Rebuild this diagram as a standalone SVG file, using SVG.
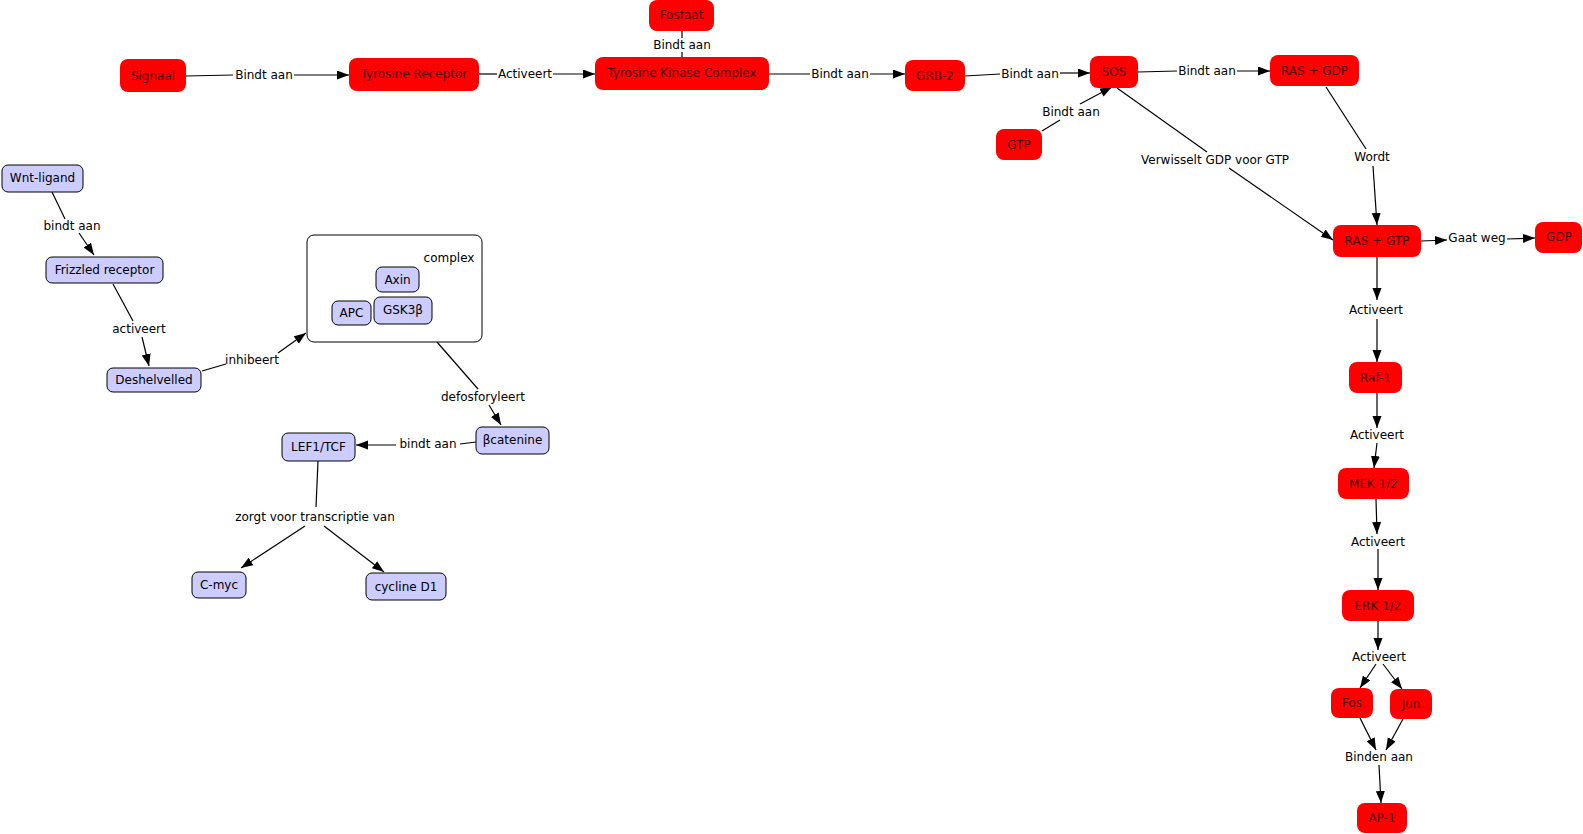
<svg xmlns="http://www.w3.org/2000/svg" width="1583" height="834" viewBox="0 0 1583 834">
<defs>
<marker id="ah" markerUnits="userSpaceOnUse" markerWidth="13" markerHeight="10" refX="12" refY="4.5" orient="auto"><path d="M0,0 L12,4.5 L0,9 z" fill="#000"/></marker>
<style>
text{font-family:"DejaVu Sans","Liberation Sans",sans-serif;font-size:12px;text-anchor:middle;dominant-baseline:central}
.r rect{fill:#ff0000;stroke:none}
.r text{fill:#4a0000}
.b rect{fill:#ccccff;stroke:#000;stroke-width:1}
.b text{fill:#000}
.lbl{fill:#000}
#connectors line{stroke:#000;stroke-width:1.2;fill:none}
#connectors line.a{marker-end:url(#ah)}
</style>
</defs>
<rect width="1583" height="834" fill="#fff"/>
<g id="connectors">
<line x1="186" y1="76" x2="233" y2="75"/><line class="a" x1="294" y1="75" x2="349" y2="75"/>
<line x1="479" y1="74" x2="497" y2="74"/><line class="a" x1="553" y1="74" x2="595" y2="74"/>
<line x1="682" y1="31" x2="682" y2="38"/><line x1="682" y1="52" x2="682" y2="57"/>
<line x1="769" y1="74" x2="810" y2="74"/><line class="a" x1="870" y1="74" x2="905" y2="74"/>
<line x1="965" y1="76" x2="1000" y2="74"/><line class="a" x1="1060" y1="73" x2="1090" y2="73"/>
<line x1="1138" y1="72" x2="1177" y2="71"/><line class="a" x1="1237" y1="71" x2="1270" y2="71"/>
<line x1="1042" y1="131" x2="1060" y2="120"/><line class="a" x1="1080" y1="104" x2="1112" y2="87"/>
<line x1="1117" y1="88" x2="1207" y2="152"/><line class="a" x1="1229" y1="168" x2="1333" y2="240"/>
<line x1="1326" y1="87" x2="1366" y2="149"/><line class="a" x1="1373" y1="166" x2="1377" y2="225"/>
<line class="a" x1="1421" y1="241" x2="1447" y2="240"/><line class="a" x1="1507" y1="239" x2="1535" y2="238"/>
<line class="a" x1="1377" y1="257" x2="1377" y2="300"/><line class="a" x1="1377" y1="319" x2="1377" y2="362"/>
<line class="a" x1="1377" y1="393" x2="1377" y2="428"/><line class="a" x1="1377" y1="443" x2="1374" y2="468"/>
<line class="a" x1="1376" y1="499" x2="1377" y2="534"/><line class="a" x1="1378" y1="549" x2="1378" y2="590"/>
<line class="a" x1="1378" y1="621" x2="1378" y2="650"/>
<line class="a" x1="1376" y1="664" x2="1360" y2="688"/><line class="a" x1="1383" y1="664" x2="1402" y2="689"/>
<line class="a" x1="1360" y1="718" x2="1376" y2="750"/><line class="a" x1="1403" y1="719" x2="1386" y2="750"/>
<line class="a" x1="1379" y1="765" x2="1381" y2="803"/>
<line x1="52" y1="192" x2="65" y2="219"/><line class="a" x1="79" y1="233" x2="94" y2="255"/>
<line x1="113" y1="284" x2="133" y2="321"/><line class="a" x1="142" y1="337" x2="149" y2="366"/>
<line x1="202" y1="371" x2="226" y2="364"/><line class="a" x1="278" y1="353" x2="306" y2="333"/>
<line x1="437" y1="342" x2="478" y2="389"/><line class="a" x1="489" y1="405" x2="501" y2="425"/>
<line x1="476" y1="442" x2="460" y2="444"/><line class="a" x1="396" y1="445" x2="356" y2="445"/>
<line x1="318" y1="461" x2="316" y2="507"/><line class="a" x1="305" y1="526" x2="241" y2="568"/><line class="a" x1="324" y1="526" x2="384" y2="572"/>
</g>
<g id="labels" class="lbl">
<text x="264" y="75">Bindt aan</text>
<text x="525" y="74">Activeert</text>
<text x="682" y="45">Bindt aan</text>
<text x="840" y="74">Bindt aan</text>
<text x="1030" y="74">Bindt aan</text>
<text x="1207" y="71">Bindt aan</text>
<text x="1071" y="112">Bindt aan</text>
<text x="1215" y="160">Verwisselt GDP voor GTP</text>
<text x="1372" y="157">Wordt</text>
<text x="1477" y="238">Gaat weg</text>
<text x="1376" y="310">Activeert</text>
<text x="1377" y="435">Activeert</text>
<text x="1378" y="542">Activeert</text>
<text x="1379" y="657">Activeert</text>
<text x="1379" y="757">Binden aan</text>
<text x="72" y="226">bindt aan</text>
<text x="139" y="329">activeert</text>
<text x="252" y="360">inhibeert</text>
<text x="483" y="397">defosforyleert</text>
<text x="428" y="444">bindt aan</text>
<text x="315" y="517">zorgt voor transcriptie van</text>
</g>
<g id="n-signaal" class="r"><rect x="120" y="59" width="66" height="33" rx="8"/><text x="153" y="75.5">Signaal</text></g>
<g id="n-tyrrec" class="r"><rect x="349" y="58" width="130" height="33" rx="8"/><text x="414" y="74">Tyrosine Receptor</text></g>
<g id="n-fosfaat" class="r"><rect x="649" y="0" width="65" height="31" rx="8"/><text x="681.5" y="15">Fosfaat</text></g>
<g id="n-tkc" class="r"><rect x="595" y="57" width="174" height="33" rx="8"/><text x="682" y="73">Tyrosine Kinase Complex</text></g>
<g id="n-grb2" class="r"><rect x="905" y="60" width="60" height="31" rx="8"/><text x="935" y="76">GRB-2</text></g>
<g id="n-sos" class="r"><rect x="1090" y="56" width="48" height="32" rx="8"/><text x="1114" y="72">SOS</text></g>
<g id="n-rasgdp" class="r"><rect x="1270" y="55" width="89" height="31" rx="8"/><text x="1314.5" y="70.5">RAS + GDP</text></g>
<g id="n-gtp" class="r"><rect x="996" y="129" width="46" height="31" rx="8"/><text x="1019" y="145">GTP</text></g>
<g id="n-rasgtp" class="r"><rect x="1333" y="225" width="88" height="32" rx="8"/><text x="1377" y="241">RAS + GTP</text></g>
<g id="n-gdp" class="r"><rect x="1535" y="222" width="47" height="31" rx="8"/><text x="1559" y="237">GDP</text></g>
<g id="n-raf1" class="r"><rect x="1349" y="362" width="53" height="31" rx="8"/><text x="1375.5" y="377.5">Raf-1</text></g>
<g id="n-mek" class="r"><rect x="1338" y="468" width="71" height="31" rx="8"/><text x="1373.5" y="484">MEK 1/2</text></g>
<g id="n-erk" class="r"><rect x="1342" y="590" width="72" height="31" rx="8"/><text x="1378" y="606">ERK 1/2</text></g>
<g id="n-fos" class="r"><rect x="1331" y="688" width="42" height="30" rx="8"/><text x="1352" y="703">Fos</text></g>
<g id="n-jun" class="r"><rect x="1390" y="689" width="42" height="30" rx="8"/><text x="1411" y="704">Jun</text></g>
<g id="n-ap1" class="r"><rect x="1357" y="803" width="50" height="30" rx="8"/><text x="1382" y="818">AP-1</text></g>
<g id="n-wnt" class="b"><rect x="2" y="165" width="81" height="27" rx="6"/><text x="42.5" y="178">Wnt-ligand</text></g>
<g id="n-frizzled" class="b"><rect x="46" y="257" width="117" height="26" rx="6"/><text x="104.5" y="270">Frizzled receptor</text></g>
<g id="n-deshelvelled" class="b"><rect x="107" y="368" width="94" height="24" rx="6"/><text x="154" y="380">Deshelvelled</text></g>
<g id="n-complex" class="b"><rect x="307" y="235" width="175" height="107" rx="7" style="fill:#fff"/><text x="449" y="258">complex</text></g>
<g id="n-axin" class="b"><rect x="376" y="267" width="43" height="25" rx="6"/><text x="397.5" y="280">Axin</text></g>
<g id="n-apc" class="b"><rect x="332" y="301" width="39" height="24" rx="6"/><text x="351.5" y="313">APC</text></g>
<g id="n-gsk" class="b"><rect x="374" y="297" width="58" height="27" rx="6"/><text x="403" y="310">GSK3β</text></g>
<g id="n-bcat" class="b"><rect x="476" y="427" width="73" height="27" rx="6"/><text x="512.5" y="440">βcatenine</text></g>
<g id="n-lef" class="b"><rect x="282" y="433" width="73" height="28" rx="6"/><text x="318.5" y="447">LEF1/TCF</text></g>
<g id="n-cmyc" class="b"><rect x="192" y="572" width="54" height="26" rx="6"/><text x="219" y="585">C-myc</text></g>
<g id="n-cyclin" class="b"><rect x="366" y="573" width="80" height="27" rx="6"/><text x="406" y="586.5">cycline D1</text></g>
</svg>
